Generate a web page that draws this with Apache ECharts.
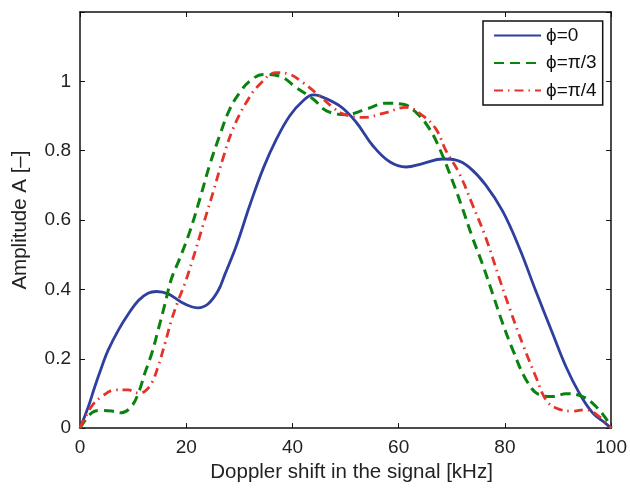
<!DOCTYPE html>
<html><head><meta charset="utf-8">
<script src="https://cdn.jsdelivr.net/npm/echarts@6/dist/echarts.min.js"></script>
<style>html,body{margin:0;padding:0;background:#fff}#c{width:630px;height:488px}</style>
</head><body><div id="c"></div>
<script>
const seriesNames = ['ϕ=0', 'ϕ=π/3', 'ϕ=π/4'];
const xTicks = [0, 20, 40, 60, 80, 100];
const yTicks = [0, 0.2, 0.4, 0.6, 0.8, 1];

const blueX = [0,1.6,2.8,4.1,5.3,7.2,9.1,11,12.8,14.4,16.6,19.1,21,22.2,24.1,26,27.3,29.5,32,34.5,37,39.5,42,43.9,45.1,48.9,52,55.1,58.3,61.4,64.5,68.3,70.8,73.3,76.4,79.6,82.7,85.8,89,91.5,94,96.5,99,100];
const blueY = [0,0.063,0.12,0.177,0.225,0.282,0.329,0.368,0.389,0.394,0.387,0.363,0.35,0.347,0.358,0.396,0.444,0.529,0.644,0.749,0.834,0.901,0.944,0.961,0.958,0.929,0.882,0.815,0.768,0.753,0.763,0.776,0.773,0.752,0.701,0.625,0.52,0.396,0.272,0.177,0.101,0.044,0.013,0];

const greenX = [0,2.2,4.1,6,7.8,9.7,11,12.2,13.5,14.7,16,17.2,18.8,20.7,22.6,24.4,26.3,28.2,30.1,32,34.5,37.6,40.7,43.9,46.4,50.1,53.9,57.6,60.8,63.3,65.8,67.7,70.2,72,73.9,75.8,77.7,79.6,81.5,84,86.5,89,91.5,94.6,97.1,99.6,100];
const greenY = [0,0.044,0.051,0.049,0.044,0.063,0.101,0.158,0.215,0.282,0.358,0.43,0.49,0.568,0.663,0.758,0.844,0.92,0.968,1.001,1.02,1.015,0.982,0.949,0.915,0.904,0.92,0.937,0.934,0.91,0.863,0.806,0.71,0.634,0.549,0.472,0.387,0.301,0.225,0.139,0.096,0.091,0.099,0.091,0.063,0.015,0];

const redX = [0,2.2,4.1,6.6,9.1,11,12.2,13.5,14.7,16,17.2,18.5,19.7,21.2,23.2,25.1,26.9,28.8,31.3,33.8,37,39.5,42,45.1,47.6,49.5,53.3,57.6,61.4,64.5,67,68.9,71.4,73.9,76.4,78.9,80.8,83.3,85.8,87.7,89.6,92.7,95.2,97.7,100];
const redY = [0,0.063,0.091,0.11,0.11,0.101,0.106,0.13,0.177,0.244,0.31,0.368,0.415,0.485,0.587,0.682,0.777,0.863,0.939,0.991,1.025,1.02,0.996,0.958,0.925,0.906,0.896,0.91,0.925,0.901,0.863,0.8,0.735,0.644,0.549,0.434,0.349,0.244,0.149,0.082,0.058,0.049,0.053,0.034,0];

const pair = (xs, ys) => xs.map((x, i) => [x, ys[i]]);
const FONT = "'Liberation Sans', Arial, Helvetica, sans-serif";

const axisCommon = {
  axisLine: { show: true, onZero: false, lineStyle: { color: '#111', width: 1.5 } },
  axisTick: { show: true, inside: true, length: 5, lineStyle: { color: '#111', width: 1 } },
  splitLine: { show: false }
};

const chart = echarts.init(document.getElementById('c'), null, { renderer: 'canvas' });
chart.setOption({
  backgroundColor: '#fff',
  animation: false,
  grid: { left: 80, right: 17, top: 12, bottom: 56, containLabel: false },
  legend: {
    left: 483, top: 21, orient: 'vertical',
    padding: [5, 6, 5, 10], itemGap: 8.5,
    itemWidth: 47, itemHeight: 14,
    borderColor: '#111', borderWidth: 1.5, backgroundColor: '#fff',
    itemStyle: { opacity: 0 },
    textStyle: { fontFamily: FONT, fontSize: 19, color: '#111' },
    data: seriesNames
  },
  xAxis: [
    Object.assign({
      type: 'value', min: 0, max: 100, interval: 20, position: 'bottom',
      name: 'Doppler shift in the signal [kHz]', nameLocation: 'middle', nameGap: 32,
      nameTextStyle: { fontFamily: FONT, fontSize: 20.5, color: '#222', padding: [0, 0, 0, 12] },
      axisLabel: { fontFamily: FONT, fontSize: 19, color: '#222', margin: 10,
        formatter: v => xTicks.includes(v) ? String(v) : '' }
    }, axisCommon),
    Object.assign({
      type: 'value', min: 0, max: 100, interval: 20, position: 'top',
      axisLabel: { show: false }
    }, axisCommon)
  ],
  yAxis: [
    Object.assign({
      type: 'value', min: 0, max: 1.2, interval: 0.2, position: 'left',
      name: 'Amplitude A [–]', nameLocation: 'middle', nameGap: 49,
      nameTextStyle: { fontFamily: FONT, fontSize: 20.5, color: '#222' },
      axisLabel: { fontFamily: FONT, fontSize: 19, color: '#222', margin: 9,
        formatter: v => { const r = Math.round(v * 10) / 10; return yTicks.includes(r) ? String(r) : ''; } }
    }, axisCommon),
    Object.assign({
      type: 'value', min: 0, max: 1.2, interval: 0.2, position: 'right',
      axisLabel: { show: false }
    }, axisCommon)
  ],
  series: [
    { name: seriesNames[0], type: 'line', data: pair(blueX, blueY), smooth: 0.4, symbol: 'none',
      lineStyle: { color: '#2f3f9e', width: 2.8, type: 'solid' }, itemStyle: { color: '#2f3f9e' } },
    { name: seriesNames[1], type: 'line', data: pair(greenX, greenY), smooth: 0.4, symbol: 'none',
      lineStyle: { color: '#0a820f', width: 3, type: [10, 6] }, itemStyle: { color: '#0a820f' } },
    { name: seriesNames[2], type: 'line', data: pair(redX, redY), smooth: 0.4, symbol: 'none',
      lineStyle: { color: '#e5332a', width: 2.8, type: [9, 5, 1.5, 5] }, itemStyle: { color: '#e5332a' } }
  ]
});
</script>
</body></html>
